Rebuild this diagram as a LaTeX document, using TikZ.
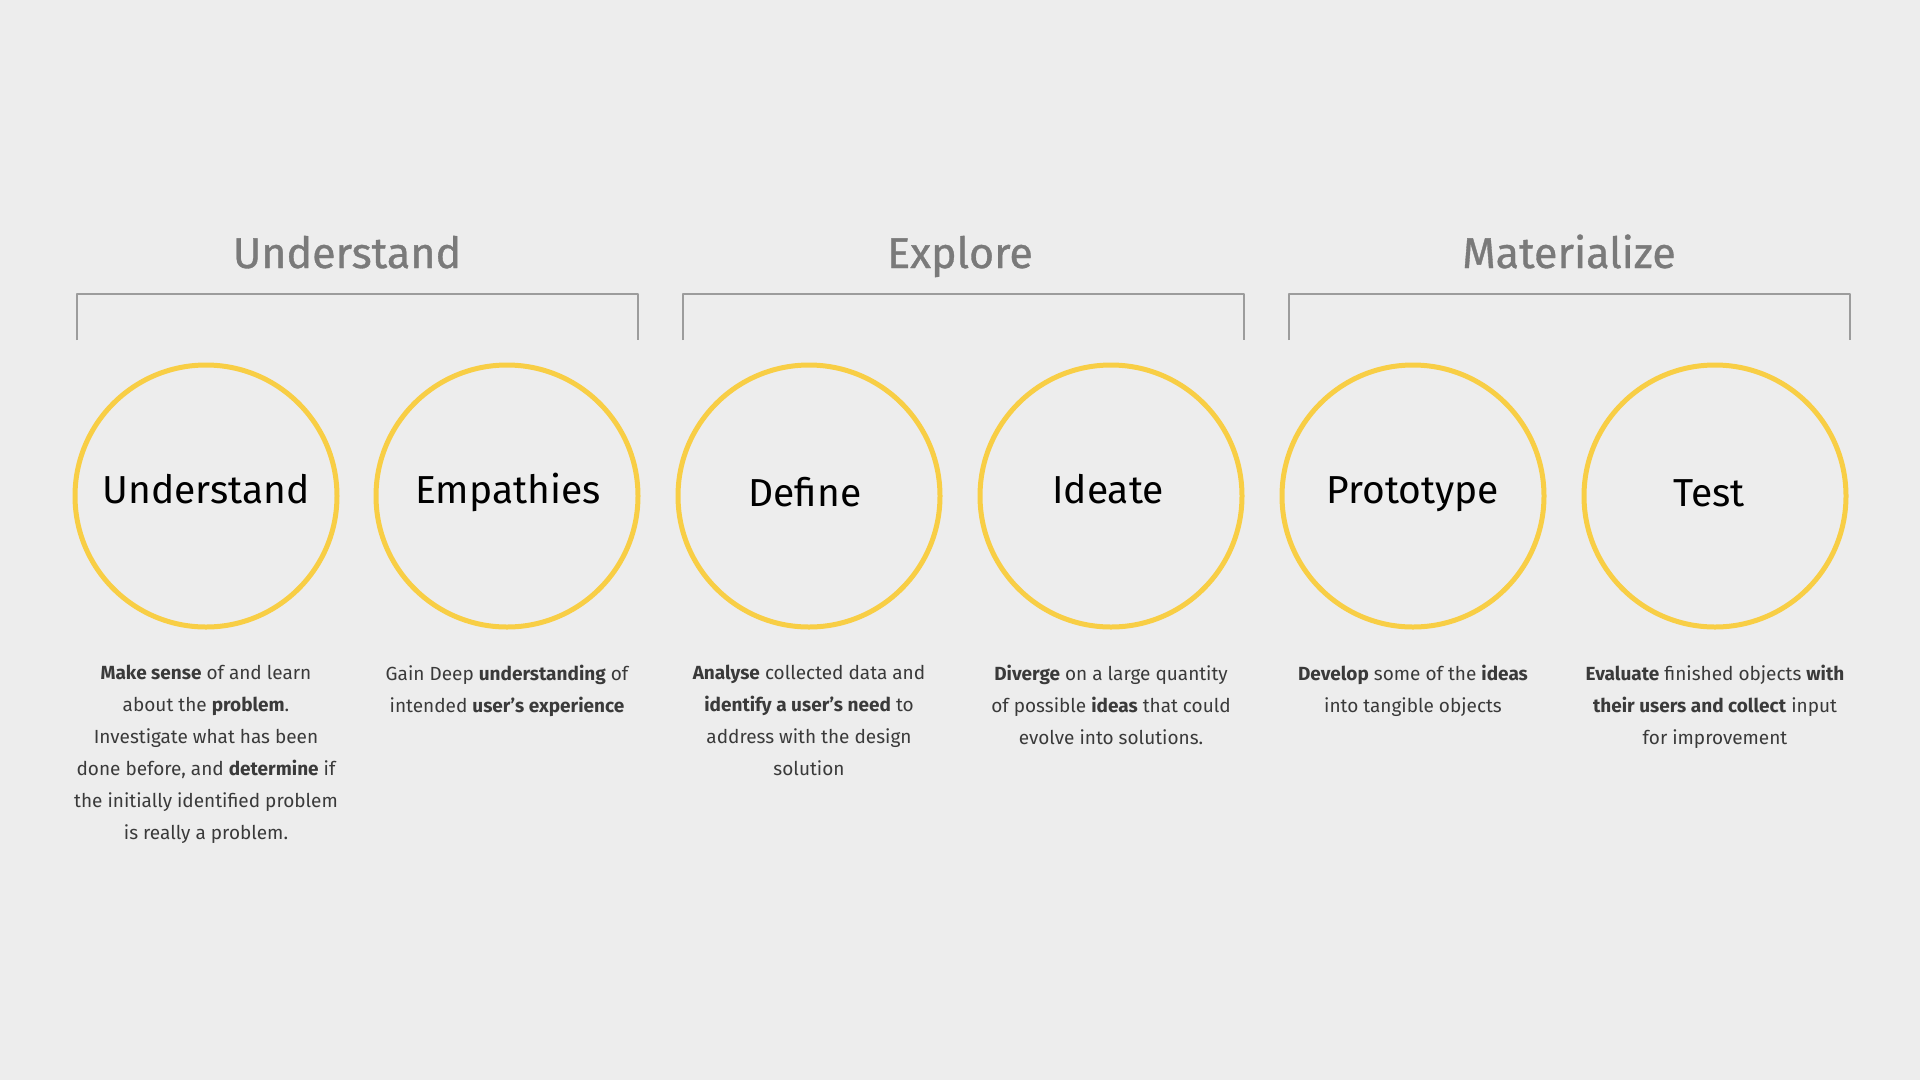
\documentclass[tikz,border=0pt]{standalone}
\usepackage{fontspec}
\setmainfont{Fira Sans}
\newfontfamily\descfont{Fira Sans}
\newfontfamily\headfont{Fira Sans}[FakeBold=0.8]
\usetikzlibrary{positioning}
\definecolor{bgcol}{HTML}{EDEDED}
\definecolor{ringcol}{HTML}{F8CE45}
\definecolor{headcol}{HTML}{7A7A7A}
\definecolor{brackcol}{HTML}{9C9C9C}
\definecolor{desccol}{HTML}{3A3A3A}
\tikzset{
  phase/.style={circle, draw=ringcol, line width=5pt, minimum size=262pt, inner sep=0pt},
  phaselabel/.style={anchor=base, inner sep=0pt, font=\fontsize{39}{42}\selectfont, text=black},
  head/.style={anchor=base, font=\headfont\fontsize{43}{46}\selectfont, text=headcol},
  bracket/.style={draw=brackcol, line width=1.4pt},
  desc/.style={below=35pt of #1, inner sep=0pt, align=center, text=desccol,
    font=\descfont\fontsize{19}{32}\selectfont}
}
\begin{document}
\begin{tikzpicture}[x=1pt, y=-1pt, line join=round]
	\def\ytop{294} \def\ybot{340} % bracket
	\def\yc{496} % circle centres
	\useasboundingbox (0,0) rectangle (1920,1080);
	\fill[bgcol] (0,0) rectangle (1920,1080);
	% groups
	\node[head] (hUnderstand) at (347,268) {Understand};
	\node[head] (hExplore) at (960,268) {Explore};
	\node[head] (hMaterialize) at (1569,268) {Materialize};
	\draw[bracket] (77,\ybot) |- (638,\ytop) -- (638,\ybot);
	\draw[bracket] (683,\ybot) |- (1244,\ytop) -- (1244,\ybot);
	\draw[bracket] (1289,\ybot) |- (1850,\ytop) -- (1850,\ybot);
	% phases
	\node[phase] (understand) at (206,\yc) {};
	\node[phase] (empathies) at (507,\yc) {};
	\node[phase] (define) at (809,\yc) {};
	\node[phase] (ideate) at (1111,\yc) {};
	\node[phase] (prototype) at (1413,\yc) {};
	\node[phase] (test) at (1715,\yc) {};
	\node[phaselabel] (lUnderstand) at (206,503) {Understand};
	\node[phaselabel] (lEmpathies) at (508,503) {Empathies};
	\node[phaselabel] (lDefine) at (805,506) {Define};
	\node[phaselabel] (lIdeate) at (1108,503) {Ideate};
	\node[phaselabel] (lPrototype) at (1413,503) {Prototype};
	\node[phaselabel] (lTest) at (1709,506) {Test};
	% texts
	\node[desc=understand] (dUnderstand) {\textbf{Make sense} of and learn\\ about the \textbf{problem}.\\ Investigate what has been\\ done before, and \textbf{determine} if\\ the initially identified problem\\ is really a problem.};
	\node[desc=empathies] (dEmpathies) {Gain Deep \textbf{understanding} of\\ intended \textbf{user’s experience}};
	\node[desc=define] (dDefine) {\textbf{Analyse} collected data and\\ \textbf{identify a user’s need} to\\ address with the design\\ solution};
	\node[desc=ideate] (dIdeate) {\textbf{Diverge} on a large quantity\\ of possible \textbf{ideas} that could\\ evolve into solutions.};
	\node[desc=prototype] (dPrototype) {\textbf{Develop} some of the \textbf{ideas}\\ into tangible objects};
	\node[desc=test] (dTest) {\textbf{Evaluate} finished objects \textbf{with}\\ \textbf{their users and collect} input\\ for improvement};
\end{tikzpicture}
\end{document}
